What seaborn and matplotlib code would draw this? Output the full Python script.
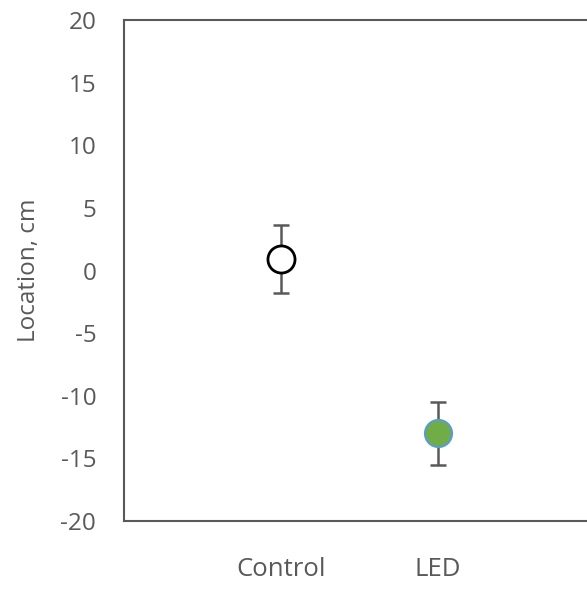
import matplotlib
matplotlib.use("Agg")
import matplotlib.pyplot as plt
import seaborn as sns
import pandas as pd

groups = ["Control", "LED"]
means = [0.9, -13.0]
errors = [2.7, 2.5]
yticks = [20, 15, 10, 5, 0, -5, -10, -15, -20]

sns.set_style("white")
plt.rcParams['font.family'] = ['Open Sans', 'DejaVu Sans']

df = pd.DataFrame({"group": groups, "mean": means, "err": errors})

fig = plt.figure(figsize=(5.87, 5.92), dpi=100)
ax = fig.add_axes([124/587, 71/592, 471/587, 501/592])

gray = "#595959"
ax.errorbar(df["group"], df["mean"], yerr=df["err"], fmt="none",
            ecolor=gray, elinewidth=1.8, capsize=6, capthick=1.8, zorder=2)
sns.scatterplot(data=df.iloc[[0]], x="group", y="mean", ax=ax, s=380,
                color="white", edgecolor="black", linewidth=2, zorder=3)
sns.scatterplot(data=df.iloc[[1]], x="group", y="mean", ax=ax, s=380,
                color="#70AD47", edgecolor="#5B9BD5", linewidth=1.5, zorder=3)

ax.set_xlim(-1, 2)
ax.set_ylim(-20, 20)
ax.set_yticks(yticks)
ax.set_yticklabels([str(t) for t in yticks])
ax.set_xticks([0, 1])
ax.set_xticklabels(groups)
ax.set_xlabel("")
ax.set_ylabel("Location, cm", fontsize=17.5, color=gray, labelpad=14)
ax.tick_params(axis="y", length=0, pad=20, labelsize=17.5, labelcolor=gray)
ax.tick_params(axis="x", length=0, pad=26, labelsize=18.5, labelcolor=gray)
for s in ["left", "top", "bottom"]:
    ax.spines[s].set_color(gray)
    ax.spines[s].set_linewidth(1.5)
ax.spines["right"].set_visible(False)

fig.savefig("out.png", dpi=100)
